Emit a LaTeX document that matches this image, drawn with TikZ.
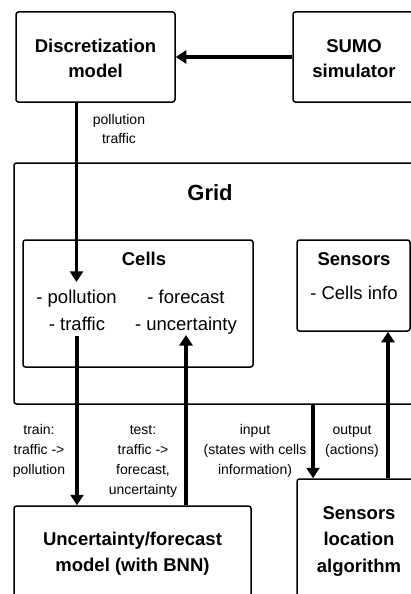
\documentclass[tikz,border=0pt]{standalone}
\usepackage{fontspec}
\setmainfont{Liberation Sans}
\usetikzlibrary{arrows.meta}
\begin{document}
\begin{tikzpicture}[x=1pt,y=-1pt,
  box/.style={draw, line width=1.5pt, rounded corners=2.5pt, inner sep=0pt},
  % base anchor of a multi-line text = baseline of its last line
  txt/.style={inner sep=0pt, anchor=base, align=center},
  title/.style={txt, font=\fontsize{18.5}{25.5}\selectfont\bfseries},
  item/.style={txt, font=\fontsize{18.5}{26}\selectfont},
  note/.style={txt, font=\fontsize{14}{20}\selectfont},
  flow/.style={line width=3.3pt, -{Triangle[width=13pt,length=10.5pt]}}]
\useasboundingbox (0,0) rectangle (411,594);
\clip (0,0) rectangle (411,594);

% boxes
\node[box, minimum width=159, minimum height=90] (disc) at (95.5,57) {};
\node[box, minimum width=124, minimum height=90] (sumo) at (355,57) {};
\node[box, minimum width=406, minimum height=241] (grid) at (217,283.5) {};
\node[box, minimum width=230, minimum height=127] (cells) at (138,303.5) {};
\node[box, minimum width=113, minimum height=91] (sens) at (353.5,285.5) {};
\node[box, minimum width=237, minimum height=94] (unc) at (132.5,553) {};
\node[box, minimum width=124, minimum height=121] (sensloc) at (359,539.5) {};

% box texts
\node[title] (discT) at (95.5,77.8) {Discretization\\model};
\node[title] (sumoT) at (354,77.8) {SUMO\\simulator};
\node[txt, font=\fontsize{22}{26}\selectfont\bfseries] (gridT) at (210,200) {Grid};
\node[title] (cellsT) at (144,265.3) {Cells};
\node[item] (pollT) at (76.5,303) {- pollution};
\node[item] (trafT) at (77,330) {- traffic};
\node[item] (foreT) at (186,303) {- forecast};
\node[item] (uncT) at (186,330) {- uncertainty};
\node[title] (sensT) at (354,265) {Sensors};
\node[item] (infoT) at (354,299) {- Cells info};
\node[title, font=\fontsize{18.5}{26}\selectfont\bfseries] (uncTitle) at (132.5,571.7) {Uncertainty/forecast\\model (with BNN)};
\node[title, font=\fontsize{18.5}{26.5}\selectfont\bfseries] (locT) at (359,572.3) {Sensors\\location\\algorithm};

% connector labels
\node[note, font=\fontsize{14}{18.5}\selectfont] (flowT) at (119,143) {pollution\\traffic};
\node[note] (trainT) at (39,474) {train:\\traffic ->\\pollution};
\node[note] (testT) at (143,494.3) {test:\\traffic ->\\forecast,\\uncertainty};
\node[note] (inputT) at (255,474) {input\\(states with cells\\information)};
\node[note] (outputT) at (352,454) {output\\(actions)};

% connector columns
\coordinate (inX) at (313,0);
\coordinate (outX) at (388,0);

% connectors
\draw[flow] (sumo.west) -- (disc.east);
\draw[flow] (disc.south -| pollT.north) -- ([yshift=7.5pt]pollT.north);
\draw[flow] ([yshift=-6pt]trafT.south) -- (unc.north -| trafT.south);
\draw[flow] (unc.north -| uncT.south) -- ([yshift=-1pt]uncT.south);
\draw[flow] (grid.south -| inX) -- (sensloc.north -| inX);
\draw[flow] (sensloc.north -| outX) -- (sens.south -| outX);
\end{tikzpicture}
\end{document}
